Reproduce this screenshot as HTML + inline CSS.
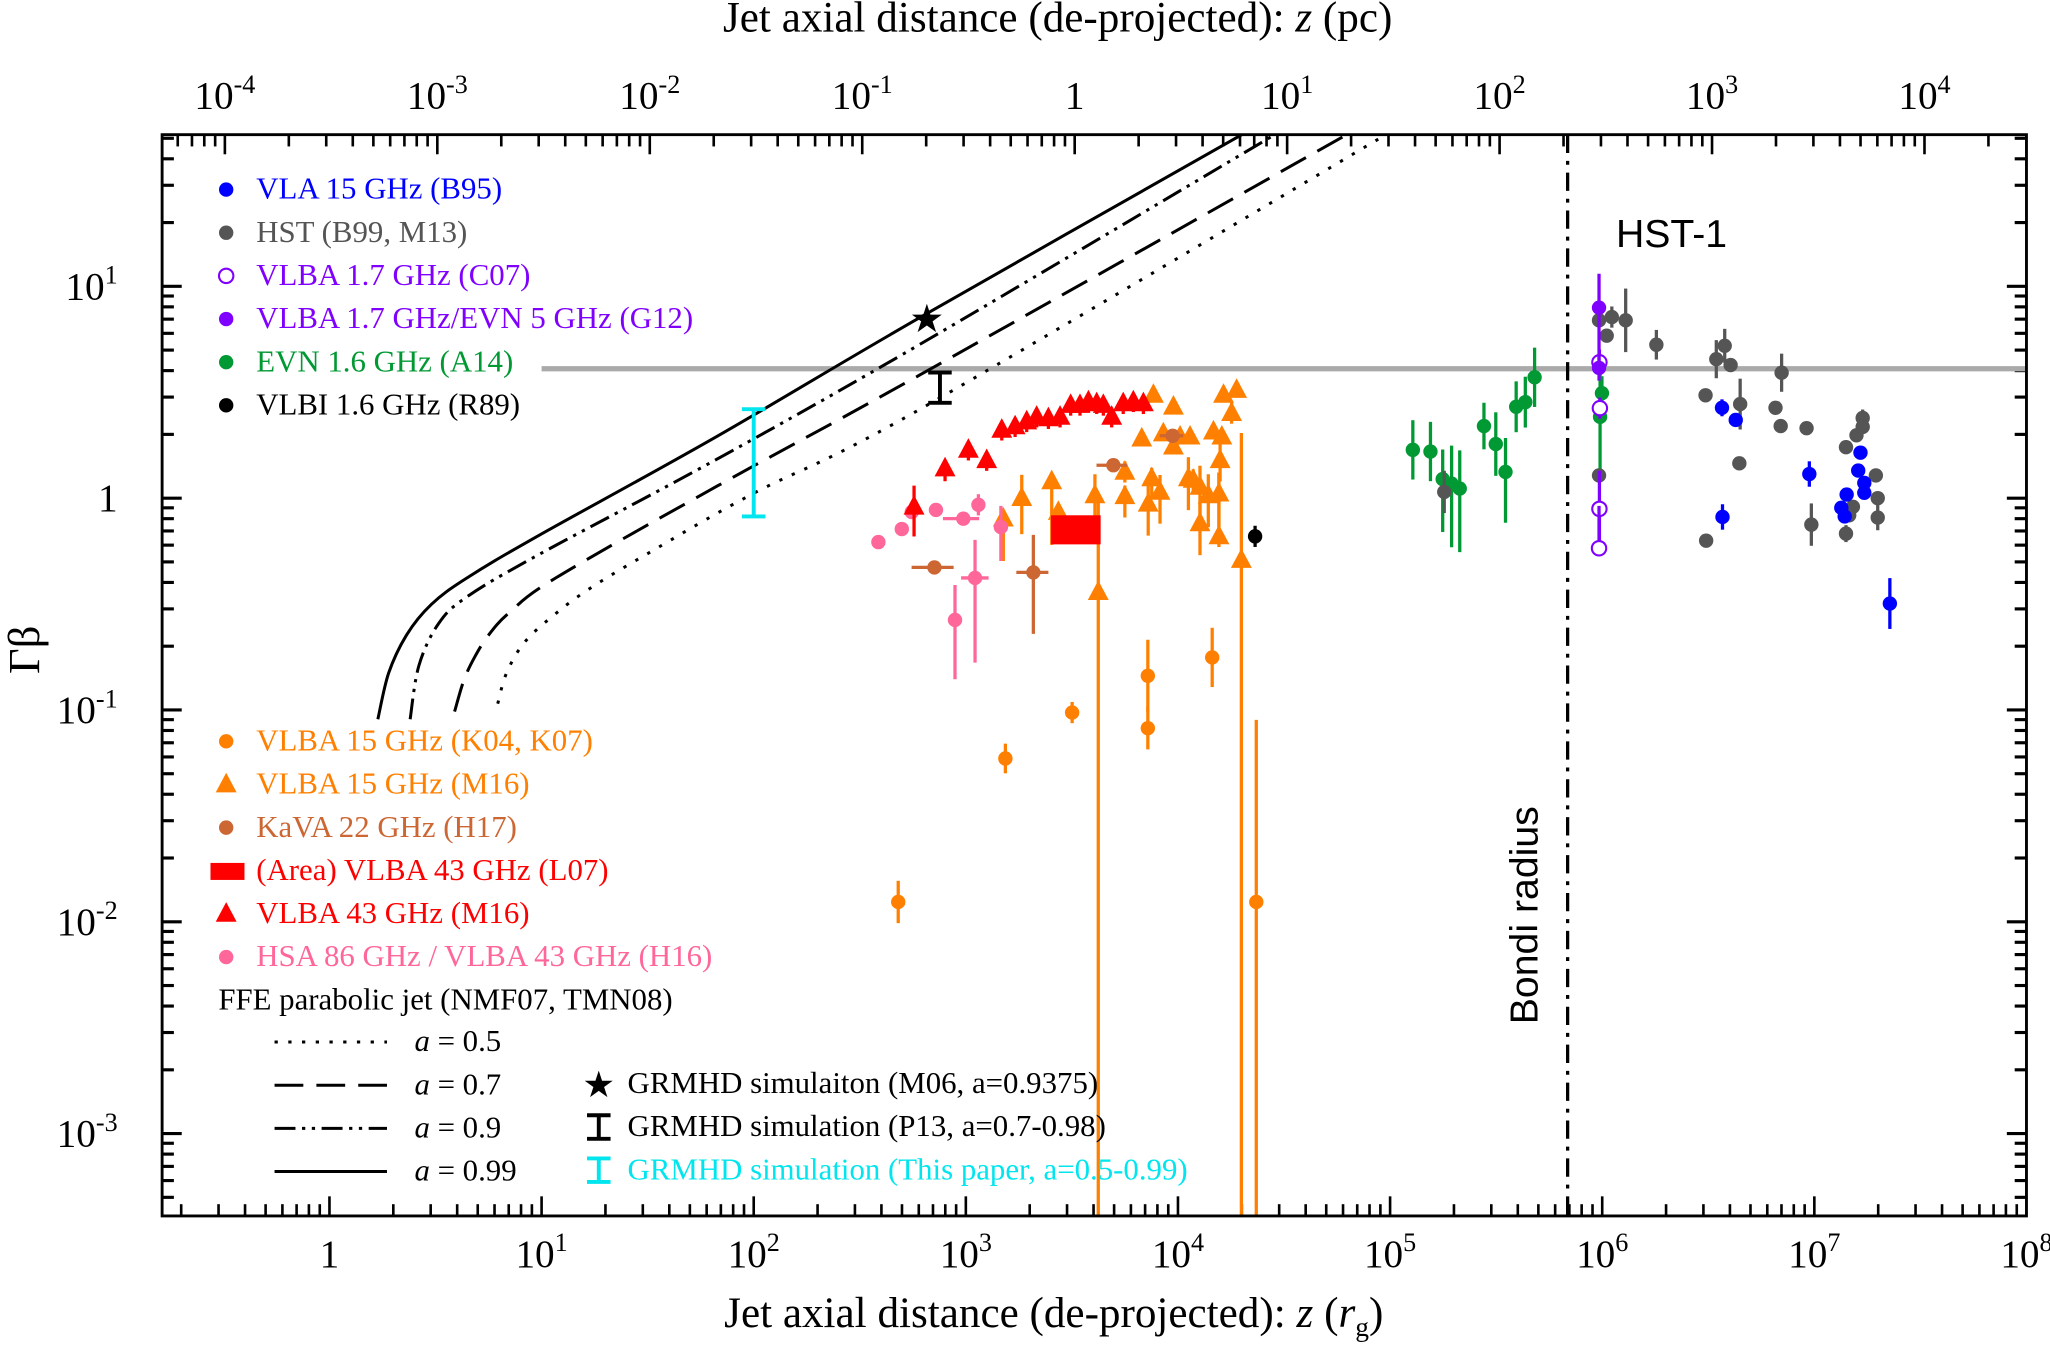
<!DOCTYPE html>
<html><head><meta charset="utf-8"><style>
html,body{margin:0;padding:0;background:#fff;}
svg{display:block;}
text{font-family:"Liberation Serif",serif;}
.sans{font-family:"Liberation Sans",sans-serif;}
</style></head><body>
<svg id="chart" xmlns="http://www.w3.org/2000/svg" width="2050" height="1348" viewBox="0 0 1568 1031" preserveAspectRatio="none">
<defs><clipPath id="plotclip"><rect x="124" y="103" width="1426" height="827"/></clipPath></defs>
<rect x="0" y="0" width="1568" height="1031" fill="#fff"/>
<g id="ticks"></g>
<g id="plot" clip-path="url(#plotclip)"></g>
<rect x="124" y="103" width="1426" height="827" fill="none" stroke="#000" stroke-width="2.2"/>
<g id="labels"></g>
<g id="legend"></g>
</svg>
<script>
// ---------- data ----------
const xMajorTicks=[1,10,100,1e3,1e4,1e5,1e6,1e7,1e8];
const xTickLabels=["1","10|1","10|2","10|3","10|4","10|5","10|6","10|7","10|8"];
const yMajorTicks=[1e-3,1e-2,1e-1,1,10];
const yTickLabels=["10|-3","10|-2","10|-1","1","10|1"];
const pcMajorTicks=[1e-4,1e-3,1e-2,1e-1,1,10,100,1e3,1e4];
const pcTickLabels=["10|-4","10|-3","10|-2","10|-1","1","10|1","10|2","10|3","10|4"];

const vlaZ=[3.67e6,4.26e6,3.69e6,9.47e6,1.65e7,1.61e7,1.72e7,1.72e7,1.42e7,1.34e7,1.39e7,2.27e7];
const vlaG=[2.67,2.34,0.815,1.30,1.64,1.35,1.18,1.06,1.04,0.90,0.82,0.318];
const vlaErr=[0.04,0.03,0.06,0.06,0.03,0.03,0.03,0.03,0.03,0.03,0.03,0.12];

const hstZ=[9.66e5,1.11e6,1.05e6,1.29e6,1.80e6,3.78e6,3.45e6,4.03e6,7.01e6,3.07e6,4.47e6,6.56e6,6.94e6,9.19e6,4.43e6,1.69e7,1.69e7,1.58e7,1.41e7,1.95e7,1.99e7,1.99e7,1.52e7,1.46e7,1.41e7,9.68e6,3.09e6,9.66e5,1.80e5];
const hstG=[6.91,7.16,5.85,6.91,5.30,5.24,4.53,4.25,3.91,3.06,2.78,2.67,2.19,2.14,1.46,2.39,2.17,1.98,1.74,1.28,1.00,0.81,0.91,0.83,0.68,0.75,0.63,1.28,1.07];
const hstErr=[0.03,0.05,0.03,0.15,0.07,0.08,0.09,0.03,0.09,0.03,0.12,0.03,0.03,0.03,0.03,0.04,0.03,0.03,0.03,0.03,0.03,0.06,0.03,0.03,0.04,0.1,0.03,0.03,0.1];

const c07Z=[9.7e5,9.75e5,9.7e5,9.66e5];
const c07G=[4.38,2.66,0.89,0.58];
const c07Up=[0.06,0.05,0.18,0.2];
const c07Dn=[0.03,0.05,0.2,0.02];

const g12Z=[9.66e5,9.66e5];
const g12G=[7.93,4.12];
const g12Up=[0.16,0.06];
const g12Dn=[0.3,0.06];

const evnZ=[1.28e5,1.55e5,1.77e5,2.13e5,1.95e5,2.77e5,3.15e5,3.50e5,3.93e5,4.34e5,4.80e5,9.97e5,9.77e5];
const evnG=[1.69,1.66,1.23,1.11,1.17,2.19,1.80,1.33,2.70,2.84,3.72,3.13,2.42];
const evnUp=[0.14,0.14,0.14,0.18,0.18,0.11,0.15,0.16,0.12,0.12,0.14,0.08,0.2];
const evnDn=[0.14,0.14,0.25,0.3,0.3,0.11,0.15,0.24,0.12,0.12,0.14,0.08,0.25];

const r89Z=[2.31e4];
const r89G=[0.66];
const r89Err=[0.05];

const k04Z=[480,1536,3170,7210,7210,14500,23400];
const k04G=[0.0124,0.059,0.0972,0.145,0.082,0.177,0.0124];
const k04Up=[0.1,0.07,0.05,0.17,0.1,0.14,0.86];
const k04Dn=[0.1,0.07,0.05,0.17,0.1,0.14,9];

const m16oZ=[1835,2540,2730,4060,4210,1502,5620,5620,6750,7660,7520,8530,9520,9520,10230,11400,7240,8230,11200,12700,12700,13900,15600,15800,16400,18900,17900,14700,16100,15600,19900,11800];
const m16oG=[1.0,1.20,0.86,1.03,0.36,0.80,1.33,1.02,1.91,3.07,1.24,2.02,2.70,1.75,1.95,1.95,0.94,1.07,1.24,1.13,0.76,1.03,1.05,1.51,3.07,3.24,2.52,2.06,1.95,0.66,0.51,1.22];
const m16oUp=[0.11,0.04,0.03,0.1,0.45,0.04,0.05,0.05,0.03,0.02,0.05,0.03,0.03,0.03,0.03,0.03,0.1,0.08,0.1,0.1,0.1,0.1,0.1,0.1,0.02,0.02,0.05,0.03,0.03,0.3,0.6,0.05];
const m16oDn=[0.17,0.3,0.03,0.2,9,0.2,0.05,0.1,0.03,0.02,0.1,0.03,0.03,0.03,0.03,0.03,0.15,0.15,0.15,0.15,0.15,0.15,0.2,0.1,0.02,0.02,0.05,0.03,0.03,0.05,9,0.05];

const kavaZ=[711,2081,4960,9440];
const kavaG=[0.471,0.446,1.43,1.97];
const kavaXlo=[555,1730,4130,8200];
const kavaXhi=[876,2450,5770,10600];
const kavaUp=[0.03,0.177,0.02,0.02];
const kavaDn=[0.03,0.29,0.02,0.02];

const l07Zrange=[2520,4320];
const l07Grange=[0.605,0.83];

const m16rZ=[570,798,1028,1254,1477,1707,1936,2157,2450,2781,3120,3453,3784,4139,4448,4870,5520,6160,6870];
const m16rG=[0.91,1.38,1.69,1.51,2.10,2.18,2.30,2.42,2.38,2.42,2.75,2.75,2.86,2.80,2.75,2.42,2.80,2.86,2.80];
const m16rUp=[0.1,0.03,0.03,0.03,0.03,0.03,0.03,0.03,0.03,0.03,0.03,0.03,0.03,0.03,0.03,0.03,0.03,0.03,0.03];
const m16rDn=[0.14,0.06,0.05,0.05,0.05,0.05,0.05,0.05,0.05,0.05,0.05,0.05,0.05,0.05,0.05,0.05,0.05,0.05,0.05];

const h16Z=[387,499,556,723,973,1146,1463,1105,889];
const h16G=[0.62,0.715,0.86,0.88,0.80,0.93,0.73,0.42,0.266];
const h16Xlo=[387,499,520,723,780,1146,1463,950,889];
const h16Xhi=[387,499,600,723,1155,1146,1463,1280,889];
const h16Up=[0,0,0,0,0,0.05,0.1,0.18,0.165];
const h16Dn=[0,0,0,0,0,0.05,0.16,0.4,0.28];

const ffe099Z=[1.69,1.90,2.31,3.02,4.46,9.69,67.2,608,20000];
const ffe099G=[0.0904,0.149,0.226,0.315,0.421,0.666,1.96,7.13,52];
const ffe09Z=[2.40,2.64,3.27,4.46,9.69,67.2,608,28600];
const ffe09G=[0.0904,0.162,0.256,0.343,0.541,1.53,5.33,52];
const ffe07Z=[3.89,4.29,4.81,5.63,7.10,11.7,67.2,608,62400];
const ffe07G=[0.0983,0.137,0.176,0.226,0.290,0.421,1.14,3.82,52];
const ffe05Z=[6.21,6.83,8.28,11.3,16.7,31.0,99.2,608,95500];
const ffe05G=[0.107,0.149,0.208,0.278,0.372,0.541,1.05,2.63,52];

const m06Z=[656], m06G=[7.01];
const p13Z=[755], p13Range=[2.82,3.92];
const thisZ=[100], thisRange=[0.82,2.63];
const hstLineG=[4.08], hstLineZstart=[10];
const bondiZ=[6.87e5];

// ---------- axis functions ----------
const L=124,R=1550,T=103,B=930;
const X=z=>252+162.25*Math.log10(z);
const Y=v=>381-162*Math.log10(v);
const XP=p=>822+162.5*Math.log10(p);
const NS="http://www.w3.org/2000/svg";
function mk(tag,attrs,parent){const e=document.createElementNS(NS,tag);for(const k in attrs)e.setAttribute(k,attrs[k]);parent.appendChild(e);return e;}
const plot=document.getElementById('plot'),ticks=document.getElementById('ticks'),labels=document.getElementById('labels'),legend=document.getElementById('legend');

// ---------- ticks ----------
function tickLine(x1,y1,x2,y2,w){const t=mk('line',{x1,y1,x2,y2,stroke:'#000','stroke-width':w},ticks);

}
for(let d=-1;d<=7;d++){for(let m=1;m<10;m++){const x=X(m*Math.pow(10,d));if(x<L+1||x>R-1)continue;const len=m===1?15:9;tickLine(x,B,x,B-len,2);}}
for(let d=-5;d<=4;d++){for(let m=1;m<10;m++){const x=XP(m*Math.pow(10,d));if(x<L+1||x>R-1)continue;const len=m===1?15:9;tickLine(x,T,x,T+len,2);}}
for(let d=-4;d<=1;d++){for(let m=1;m<10;m++){const y=Y(m*Math.pow(10,d));if(y<T+1||y>B-1)continue;const len=m===1?15:9;tickLine(L,y,L+len,y,2.4);tickLine(R,y,R-len,y,2.4);}}

function powLabel(txt,x,y,anchor,name){const t=mk('text',{x,y,'font-size':30,'text-anchor':anchor},labels);


const p=txt.split('|');const a=mk('tspan',{},t);a.textContent=p[0];if(p[1]){const s=mk('tspan',{dy:-12,'font-size':20},t);s.textContent=p[1];}return t;}
xMajorTicks.forEach((v,i)=>{powLabel(xTickLabels[i],X(v),969,'middle','x-tick-label');});
pcMajorTicks.forEach((v,i)=>{powLabel(pcTickLabels[i],XP(v),83,'middle','top-tick-label');});
yMajorTicks.forEach((v,i)=>{powLabel(yTickLabels[i],90,Y(v)+10,'end','y-tick-label');});

let t=mk('text',{x:806,y:1015,'font-size':33,'text-anchor':'middle'},labels);


t.innerHTML='Jet axial distance (de-projected): <tspan font-style="italic">z</tspan> (<tspan font-style="italic">r</tspan><tspan font-size="21" dy="7">g</tspan><tspan dy="-7">)</tspan>';
t=mk('text',{x:809,y:24,'font-size':33,'text-anchor':'middle'},labels);


t.innerHTML='Jet axial distance (de-projected): <tspan font-style="italic">z</tspan> (pc)';
t=mk('text',{x:30,y:497,'font-size':34,'text-anchor':'middle',transform:'rotate(-90 30 497)'},labels);


t.textContent='Γβ';

// ---------- plot elements ----------
const hl=mk('line',{x1:X(hstLineZstart[0]),y1:Y(hstLineG[0]),x2:R,y2:Y(hstLineG[0]),stroke:'#aaa','stroke-width':4},plot);


const bl=mk('line',{x1:X(bondiZ[0]),y1:T,x2:X(bondiZ[0]),y2:B,stroke:'#000','stroke-width':2.5,'stroke-dasharray':'14 6 3 6'},plot);



function curve(zs,gs,dash,name){const P=zs.map((z,i)=>[X(z),Y(gs[i])]);let d='M'+P[0][0].toFixed(1)+' '+P[0][1].toFixed(1);
for(let i=0;i<P.length-1;i++){const p0=P[Math.max(0,i-1)],p1=P[i],p2=P[i+1],p3=P[Math.min(P.length-1,i+2)];
const c1=[p1[0]+(p2[0]-p0[0])/6,p1[1]+(p2[1]-p0[1])/6],c2=[p2[0]-(p3[0]-p1[0])/6,p2[1]-(p3[1]-p1[1])/6];
d+=` C${c1[0].toFixed(1)} ${c1[1].toFixed(1)} ${c2[0].toFixed(1)} ${c2[1].toFixed(1)} ${p2[0].toFixed(1)} ${p2[1].toFixed(1)}`;}
const p=mk('path',{d,fill:'none',stroke:'#000','stroke-width':2.3,'stroke-dasharray':dash,'stroke-linejoin':'round'},plot);

}
curve(ffe05Z,ffe05G,'2.5 8','ffe-curve-a05');
curve(ffe07Z,ffe07G,'22 10','ffe-curve-a07');
curve(ffe09Z,ffe09G,'16 5 2.5 5 2.5 5','ffe-curve-a09');
curve(ffe099Z,ffe099G,'','ffe-curve-a099');

function vbar(x,y1,y2,col,w){const l=mk('line',{x1:x,y1:y1,x2:x,y2:y2,stroke:col,'stroke-width':w||2.5},plot);

}
function hbar(x1,x2,y,col){const l=mk('line',{x1,y1:y,x2,y2:y,stroke:col,'stroke-width':2.5},plot);

}
function yErr(v,dex){return dex>=9?B+5:Y(v/Math.pow(10,dex));}
function circle(x,y,col,name,open){const c=mk('circle',{cx:x,cy:y,r:5.5,fill:open?'#fff':col,stroke:col,'stroke-width':open?1.6:0},plot);

}
function tri(x,y,col,name){const p=mk('path',{d:`M${x} ${y-9}L${x-8} ${y+6}L${x+8} ${y+6}Z`,fill:col},plot);

}

function series(zs,gs,up,dn,col,kind,name,xlo,xhi){zs.forEach((z,i)=>{const x=X(z),y=Y(gs[i]);
 if(up[i]||dn[i])vbar(x,Y(gs[i]*Math.pow(10,up[i])),yErr(gs[i],dn[i]),col);
 if(xlo&&xlo[i]!==xhi[i])hbar(X(xlo[i]),X(xhi[i]),y,col);
 if(kind==='tri')tri(x,y,col,name);else circle(x,y,col,name,kind==='open');});}

series(evnZ,evnG,evnUp,evnDn,'#009933','dot','evn-point');
series(hstZ,hstG,hstErr,hstErr,'#555555','dot','hst-point');
series(vlaZ,vlaG,vlaErr,vlaErr,'#0000ff','dot','vla-point');
series(c07Z,c07G,c07Up,c07Dn,'#8000ff','open','vlba-c07-point');
series(g12Z,g12G,g12Up,g12Dn,'#8000ff','dot','vlba-g12-point');
series(r89Z,r89G,r89Err,r89Err,'#000','dot','vlbi-r89-point');
series(k04Z,k04G,k04Up,k04Dn,'#ff8000','dot','vlba15-k04-point');
series(m16oZ,m16oG,m16oUp,m16oDn,'#ff8000','tri','vlba15-m16-point');
series(h16Z,h16G,h16Up,h16Dn,'#ff6699','dot','hsa86-point',h16Xlo,h16Xhi);
series(kavaZ,kavaG,kavaUp,kavaDn,'#cc6633','dot','kava-point',kavaXlo,kavaXhi);
const ar=mk('rect',{x:X(l07Zrange[0]),y:Y(l07Grange[1]),width:X(l07Zrange[1])-X(l07Zrange[0]),height:Y(l07Grange[0])-Y(l07Grange[1]),fill:'#ff0000'},plot);


series(m16rZ,m16rG,m16rUp,m16rDn,'#ff0000','tri','vlba43-m16-point');

function ibar(x,y1,y2,col,name,g){const gg=mk('g',{},g);


mk('line',{x1:x,y1:y1,x2:x,y2:y2,stroke:col,'stroke-width':3},gg);mk('line',{x1:x-9,y1:y1,x2:x+9,y2:y1,stroke:col,'stroke-width':3},gg);mk('line',{x1:x-9,y1:y2,x2:x+9,y2:y2,stroke:col,'stroke-width':3},gg);}
ibar(X(p13Z[0]),Y(p13Range[1]),Y(p13Range[0]),'#000','grmhd-p13-range',plot);
ibar(X(thisZ[0]),Y(thisRange[1]),Y(thisRange[0]),'#00e5ee','grmhd-this-paper-range',plot);
const st=mk('text',{x:X(m06Z[0]),y:Y(m06G[0])+10,'font-size':30,'text-anchor':'middle',fill:'#000','font-family':'DejaVu Sans, sans-serif'},plot);


st.textContent='★';

// annotations
t=mk('text',{x:1236,y:189,'font-size':30,'class':'sans'},labels);


t.textContent='HST-1';
t=mk('text',{x:1176,y:700,'font-size':30,'class':'sans','text-anchor':'middle',transform:'rotate(-90 1176 700)'},labels);


t.textContent='Bondi radius';

// ---------- legend ----------
function legText(x,y,txt,col,name){const e=mk('text',{x,y:y+7,'font-size':23.6,fill:col},legend);


e.innerHTML=txt;return e;}
function legCircle(x,y,col,open){const c=mk('circle',{cx:x,cy:y,r:5.5,fill:open?'#fff':col,stroke:col,'stroke-width':open?1.6:0},legend);

}
function legTri(x,y,col){const p=mk('path',{d:`M${x} ${y-9}L${x-8} ${y+6}L${x+8} ${y+6}Z`,fill:col},legend);

}
const upper=[['VLA 15 GHz (B95)','#0000ff',0],['HST (B99, M13)','#555555',0],['VLBA 1.7 GHz (C07)','#8000ff',1],['VLBA 1.7 GHz/EVN 5 GHz (G12)','#8000ff',0],['EVN 1.6 GHz (A14)','#009933',0],['VLBI 1.6 GHz (R89)','#000000',0]];
upper.forEach((e,i)=>{const y=145+33*i;legCircle(173,y,e[1],e[2]);legText(196,y,e[0],e[1],'legend-entry');});
const lower=[['VLBA 15 GHz (K04, K07)','#ff8000','c'],['VLBA 15 GHz (M16)','#ff8000','t'],['KaVA 22 GHz (H17)','#cc6633','c'],['(Area) VLBA 43 GHz (L07)','#ff0000','r'],['VLBA 43 GHz (M16)','#ff0000','t'],['HSA 86 GHz / VLBA 43 GHz (H16)','#ff6699','c']];
lower.forEach((e,i)=>{const y=567+33*i;if(e[2]==='c')legCircle(173,y,e[1]);else if(e[2]==='t')legTri(173,y,e[1]);else{const r=mk('rect',{x:161,y:y-6,width:26,height:13,fill:e[1]},legend);

}
legText(196,y,e[0],e[1],'legend-entry');});
legText(167,765,'FFE parabolic jet (NMF07, TMN08)','#000','legend-ffe-title');
const ffeLeg=[['0.5','2.5 8'],['0.7','22 10'],['0.9','16 5 2.5 5 2.5 5'],['0.99','']];
ffeLeg.forEach((e,i)=>{const y=797+33*i;const l=mk('line',{x1:210,y1:y,x2:296,y2:y,stroke:'#000','stroke-width':2.3,'stroke-dasharray':e[1]},legend);


legText(317,y,'<tspan font-style="italic">a</tspan> = '+e[0],'#000','legend-entry');});
const st2=mk('text',{x:458,y:839,'font-size':28,'text-anchor':'middle','font-family':'DejaVu Sans, sans-serif'},legend);


st2.textContent='★';
ibar(458,853,871,'#000','legend-marker',legend);
ibar(458,886,904,'#00e5ee','legend-marker',legend);
legText(480,829,'GRMHD simulaiton (M06, a=0.9375)','#000','legend-entry');
legText(480,862,'GRMHD simulation (P13, a=0.7-0.98)','#000','legend-entry');
legText(480,895,'GRMHD simulation (This paper, a=0.5-0.99)','#00e5ee','legend-entry');
</script>
</body></html>
